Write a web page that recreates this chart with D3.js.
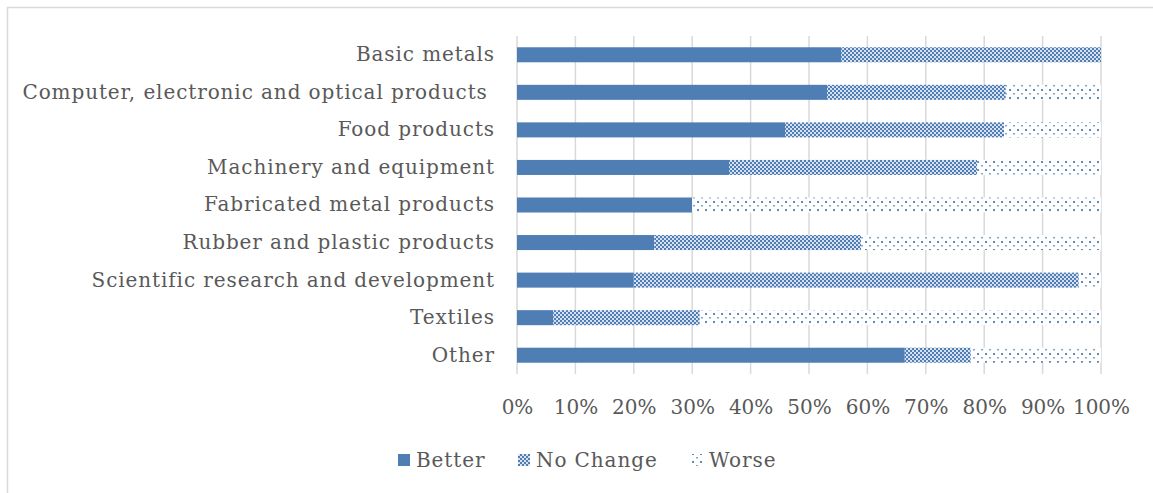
<!DOCTYPE html>
<html>
<head>
<meta charset="utf-8">
<script src="https://cdn.jsdelivr.net/npm/d3@7"></script>
<style>
  html, body { margin: 0; padding: 0; background: #fff; }
  svg { display: block; }
</style>
</head>
<body>
<svg id="chart" width="1153" height="493"></svg>
<script>
// Share of firms by sector reporting each outcome (percent of row)
const categories = [
  "Basic metals",
  "Computer, electronic and optical products ",
  "Food products",
  "Machinery and equipment",
  "Fabricated metal products",
  "Rubber and plastic products",
  "Scientific research and development",
  "Textiles",
  "Other"
];
const better   = [55.5, 53.1, 45.9, 36.3, 30.0, 23.5, 20.0, 6.2, 66.4];
const noChange = [44.5, 30.6, 37.5, 42.5,  0.0, 35.4, 76.2, 25.1, 11.3];
const worse    = [ 0.0, 16.3, 16.6, 21.2, 70.0, 41.1,  3.8, 68.7, 22.3];
const seriesNames = ["Better", "No Change", "Worse"];
const tickValues = [0, 0.1, 0.2, 0.3, 0.4, 0.5, 0.6, 0.7, 0.8, 0.9, 1.0];

const svg = d3.select("#chart");
const font = "'DejaVu Serif', serif";
const textColor = "#595959";
const blue = "#4f7eb5";

// chart frame
svg.append("rect")
  .attr("x", 7.5).attr("y", 7.5)
  .attr("width", 1160).attr("height", 500)
  .attr("fill", "#fff").attr("stroke", "#d9d9d9").attr("stroke-width", 1.5);

// fill patterns
const defs = svg.append("defs");
const chk = defs.append("pattern").attr("id", "pat-nochange")
  .attr("patternUnits", "userSpaceOnUse").attr("width", 4).attr("height", 4);
chk.append("rect").attr("width", 4).attr("height", 4).attr("fill", "#d6e0ee");
chk.append("rect").attr("x", 0).attr("y", 0).attr("width", 2).attr("height", 2).attr("fill", blue);
chk.append("rect").attr("x", 2).attr("y", 2).attr("width", 2).attr("height", 2).attr("fill", blue);

const dot = defs.append("pattern").attr("id", "pat-worse")
  .attr("patternUnits", "userSpaceOnUse").attr("width", 8).attr("height", 8);
dot.append("rect").attr("width", 8).attr("height", 8).attr("fill", "#fff");
dot.append("rect").attr("x", 1).attr("y", 1).attr("width", 2).attr("height", 2).attr("fill", blue).attr("opacity", 0.9);
dot.append("rect").attr("x", 5).attr("y", 5).attr("width", 2).attr("height", 1.5).attr("fill", blue).attr("opacity", 0.7);

const seriesFill = [blue, "url(#pat-nochange)", "url(#pat-worse)"];

const margin = { left: 517, right: 52, top: 36, bottom: 119 };
const width = 1153 - margin.left - margin.right;
const height = 493 - margin.top - margin.bottom;

const x = d3.scaleLinear().domain([0, 1]).range([margin.left, margin.left + width]);
const y = d3.scaleBand().domain(categories).range([margin.top, margin.top + height]).paddingInner(0.6).paddingOuter(0.3);

// gridlines
svg.append("g").selectAll("line").data(tickValues).join("line")
  .attr("x1", d => x(d)).attr("x2", d => x(d))
  .attr("y1", margin.top).attr("y2", margin.top + height)
  .attr("stroke", "#d9d9d9").attr("stroke-width", 1.5);

// stacked bars
const rows = categories.map((c, i) => {
  const total = better[i] + noChange[i] + worse[i];
  return { cat: c, vals: [better[i] / total, noChange[i] / total, worse[i] / total] };
});
const stack = d3.stack().keys([0, 1, 2]).value((d, k) => d.vals[k]);
const layers = stack(rows);

svg.append("g").selectAll("g").data(layers).join("g")
  .attr("fill", (d, i) => seriesFill[i])
  .selectAll("rect").data(d => d).join("rect")
  .attr("x", d => x(d[0]))
  .attr("width", d => Math.max(0, x(d[1]) - x(d[0])))
  .attr("y", d => y(d.data.cat))
  .attr("height", y.bandwidth());

// category axis labels
const yAxis = svg.append("g")
  .attr("transform", `translate(${margin.left},0)`)
  .call(d3.axisLeft(y).tickSize(0).tickPadding(22));
yAxis.select(".domain").remove();
yAxis.selectAll("text")
  .attr("fill", textColor).style("font-family", font).style("font-size", "20px")
  .style("letter-spacing", "0.9px")
  .style("white-space", "pre").attr("xml:space", "preserve");

// value axis labels
const xAxis = svg.append("g")
  .attr("transform", `translate(0,${margin.top + height})`)
  .call(d3.axisBottom(x).tickValues(tickValues).tickFormat(d3.format(".0%")).tickSize(0).tickPadding(26));
xAxis.select(".domain").remove();
xAxis.selectAll("text")
  .attr("fill", textColor).style("font-family", font).style("font-size", "20px");

// legend
const legendItems = [
  { name: seriesNames[0], x: 398 },
  { name: seriesNames[1], x: 518 },
  { name: seriesNames[2], x: 691 }
];
const lg = svg.append("g").selectAll("g").data(legendItems).join("g")
  .attr("transform", d => `translate(${d.x},460)`);
lg.append("rect").attr("x", 0).attr("y", -6).attr("width", 12).attr("height", 12)
  .attr("fill", (d, i) => seriesFill[i]);
lg.append("text").attr("x", 18).attr("y", 0).attr("dy", "0.35em")
  .attr("fill", textColor).style("font-family", font).style("font-size", "20px")
  .style("letter-spacing", "0.9px")
  .text(d => d.name);
</script>
</body>
</html>
